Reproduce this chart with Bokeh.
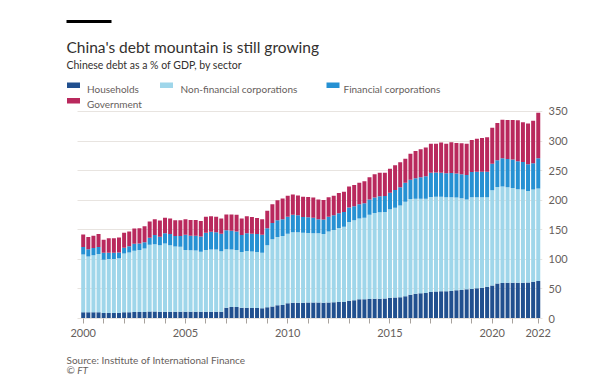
from bokeh.plotting import figure
from bokeh.layouts import column
from bokeh.models import (ColumnDataSource, Range1d, FixedTicker, LinearAxis,
                          Label, BoxAnnotation)
from bokeh.embed import file_html
from bokeh.resources import INLINE

# ---------------- data (Chinese debt, % of GDP, quarterly 2000Q1-2022Q2) -------------
households = [10.5, 10.5, 10.5, 10.5, 9.3, 9.3, 9.3, 9.3, 10.5, 10.5,
              11, 11, 11, 12, 12, 11.5, 11.5, 11.5, 11.5, 11.5,
              11.5, 11.5, 11.5, 11.5, 11.5, 11.5, 11.5, 11.5, 18.3, 19.5,
              19.5, 18.3, 18.3, 17.8, 17.8, 17.2, 19, 20.5, 22.3, 22.8,
              25.7, 26.8, 26.8, 26.8, 27, 27, 27, 26.8, 27, 27.6,
              28, 28, 30, 31, 32.4, 32.4, 33, 33.5, 33.5, 34,
              35, 35.5, 36, 37.5, 40, 42, 42.5, 43, 45, 45.5,
              46, 46, 46.5, 47.6, 48.2, 49.3, 50, 51, 52, 53.8,
              56, 59, 60, 60.5, 60.5, 60.5, 60.5, 61, 62, 63.4]
non_financial = [97.5, 94.5, 96.5, 98.5, 90.2, 91.2, 91.2, 92.4, 99.5, 101.3,
                 103.6, 104.7, 107.5, 112.8, 113.4, 112.5, 115.5, 112.5, 110.2, 109.7,
                 104.5, 104, 103.5, 101.3, 104.5, 105.1, 105.1, 102.3, 98.7, 97.1,
                 96.5, 94.2, 95.7, 95.6, 94.5, 93.8, 105, 113.5, 115.7, 116.7,
                 117.8, 119.2, 119.2, 118.2, 117.5, 117, 117, 116.2, 120, 122,
                 125, 127, 133, 135, 136.6, 138.1, 142.6, 144.9, 146, 146,
                 149.6, 151.9, 155, 160, 162, 160.6, 160.1, 159.6, 160.5, 160.5,
                 160, 159, 158.5, 156.8, 155.1, 151.7, 155, 154, 153, 151.2,
                 160.7, 163.4, 163, 161.3, 160.2, 157.9, 157.5, 154.5, 156, 156.6]
financial = [13, 12, 12, 12, 11.5, 10.5, 10.5, 9.8, 9.7, 10.2,
             11.9, 11.3, 10.5, 11.9, 15.6, 14.4, 17, 18.8, 17.7, 18.2,
             25.7, 24.5, 25, 26, 29, 30.1, 29.4, 29.6, 32, 31.9,
             31.3, 28.5, 30, 30, 30.5, 30.7, 28.5, 27.5, 28, 28.2,
             28.5, 29.5, 28.4, 26.6, 26.5, 26.5, 24, 24.4, 25, 24.9,
             25, 25, 24.5, 23.7, 24, 24.5, 25.4, 26, 27.1, 27,
             28.2, 30, 31, 32, 32.8, 34.4, 36.4, 37.8, 41.1, 41,
             40.6, 40.5, 41, 40.6, 40.5, 41.7, 42.7, 43.3, 43.3, 43.3,
             45.1, 45.1, 47.9, 47.9, 48.3, 47.4, 46.6, 45.1, 44.7, 51]
government = [21, 21, 21, 22, 22, 24.5, 24.5, 25.5, 25.3, 25,
              25.5, 25.5, 27, 27.3, 27, 27.1, 26.5, 26.2, 26.6, 26.6,
              26.3, 26.5, 26.5, 26.2, 27, 26.3, 26, 25.6, 27, 27.5,
              28.2, 28, 29, 28.1, 27.2, 26.3, 29.5, 31.5, 34, 35.3,
              35.7, 34, 33.6, 34.4, 34.5, 33.9, 33, 33, 33, 33.2,
              34, 34.5, 35.5, 36.1, 36.7, 37, 38, 39.4, 40, 39.6,
              40.6, 41.6, 42, 40.5, 43.9, 46, 47, 48.6, 49, 48.6,
              50.8, 50.1, 51.9, 51.8, 52.5, 52.9, 54.3, 55.7, 57, 58.1,
              60.9, 63.1, 65.1, 65.9, 66.6, 69.2, 67.1, 68.9, 71.8, 77]

quarters = [f"{2000 + i // 4}Q{i % 4 + 1}" for i in range(len(households))]
series_names = ["Households", "Non-financial corporations",
                "Financial corporations", "Government"]
series_colors = ["#21508f", "#9fd6ea", "#2691d3", "#b9295d"]
x_tick_labels = {0: "2000", 20: "2005", 40: "2010", 60: "2015", 80: "2020", 89: "2022"}
y_ticks = [0, 50, 100, 150, 200, 250, 300, 350]

FONT = "Lato"
GREY = "#66605c"
DARK = "#33302e"
W = 600
FL, FR, FT_, FB = 60, 542, 15, 318      # page position of chart frame edges
BAR_LEFT = -1.12                        # visible bar area starts here (index units)
X_END = 89.83
X_START = -4.44
Y_END = 512.3

# ---------------- chart (frame also hosts the header) ----------------
source = ColumnDataSource(dict(
    x=list(range(len(quarters))),
    quarter=quarters,
    hh=households, nfc=non_financial, fin=financial, gov=government,
))

p = figure(width=W, height=346, output_backend="svg", toolbar_location=None,
           x_range=Range1d(X_START, X_END), y_range=Range1d(0, Y_END),
           min_border_left=FL, min_border_right=W - FR, min_border_top=FT_,
           min_border_bottom=346 - FB, x_axis_location=None, y_axis_location=None)
p.outline_line_color = None
p.background_fill_color = "white"
p.border_fill_color = "white"

p.vbar_stack(["hh", "nfc", "fin", "gov"], x="x", width=0.78, source=source,
             color=series_colors, line_color=None)

xt = list(range(0, 85, 4)) + [89]
xaxis = LinearAxis(ticker=FixedTicker(ticks=xt))
xaxis.major_label_overrides = {t: x_tick_labels.get(t, "") for t in xt}
xaxis.bounds = (BAR_LEFT, X_END)
xaxis.axis_line_color = "#e6e2de"
xaxis.major_tick_line_color = "#a8a29d"
xaxis.major_tick_out = 5
xaxis.major_tick_in = 0
xaxis.minor_tick_line_color = None
xaxis.major_label_standoff = 5
xaxis.major_label_text_font = FONT
xaxis.major_label_text_font_size = "11px"
xaxis.major_label_text_color = GREY
p.add_layout(xaxis, "below")

yaxis = LinearAxis(ticker=FixedTicker(ticks=y_ticks))
yaxis.axis_line_color = None
yaxis.major_tick_line_color = None
yaxis.minor_tick_line_color = None
yaxis.major_tick_out = 0
yaxis.major_tick_in = 0
yaxis.major_label_standoff = 6
yaxis.major_label_text_font = FONT
yaxis.major_label_text_font_size = "11px"
yaxis.major_label_text_color = GREY
p.add_layout(yaxis, "right")

p.xgrid.grid_line_color = None
p.ygrid.ticker = FixedTicker(ticks=y_ticks)
p.ygrid.grid_line_color = "#e8e4e0"
p.ygrid.grid_line_width = 1
try:
    p.ygrid.cross_bounds = (BAR_LEFT, X_END)
except Exception:
    pass


def sbox(l, r, t, b, col):
    p.add_layout(BoxAnnotation(left=l - FL, right=r - FL, top=FB - t, bottom=FB - b,
                               left_units="screen", right_units="screen",
                               top_units="screen", bottom_units="screen",
                               fill_color=col, fill_alpha=1, line_color=None))


def stext(x, y, s, size, color):
    p.add_layout(Label(x=x - FL, y=FB - y, x_units="screen", y_units="screen",
                       text=s, text_font=FONT, text_font_size=size, text_color=color,
                       text_baseline="alphabetic", text_align="left"))


sbox(66, 111, 19.5, 22.5, "#000000")
stext(66, 46, "China's debt mountain is still growing", "15.5px", DARK)
stext(66, 64.5, "Chinese debt as a % of GDP, by sector", "10.5px", DARK)
legend_pos = [(66.5, 86.5, 82, 88), (159.5, 180, 82, 88), (326, 343, 82, 88),
              (66.5, 86.5, 97.5, 103.5)]
for name, col, (bx, tx, top, base) in zip(series_names, series_colors, legend_pos):
    sbox(bx, bx + 13, top, top + 5.5, col)
    stext(tx, base, name, "10px", GREY)

# ---------------- footer ----------------
FOOT_H = 30
foot = figure(width=W, height=FOOT_H, output_backend="svg", toolbar_location=None,
              x_range=Range1d(FL, FR), y_range=Range1d(FOOT_H, 0),
              min_border_left=FL, min_border_right=W - FR, min_border_top=0,
              min_border_bottom=0, x_axis_location=None, y_axis_location=None)
foot.outline_line_color = None
foot.background_fill_color = "white"
foot.border_fill_color = "white"
for g in foot.grid:
    g.visible = False
foot.add_layout(Label(x=66, y=13, text="Source: Institute of International Finance",
                      text_font=FONT, text_font_size="10px", text_color=GREY,
                      text_baseline="alphabetic"))
foot.add_layout(Label(x=66, y=23.5, text="\u00a9 FT", text_font=FONT,
                      text_font_size="10px", text_color=GREY, text_font_style="italic",
                      text_baseline="alphabetic"))

layout = column(p, foot, spacing=0)
open("out.html", "w").write(file_html(layout, INLINE))
